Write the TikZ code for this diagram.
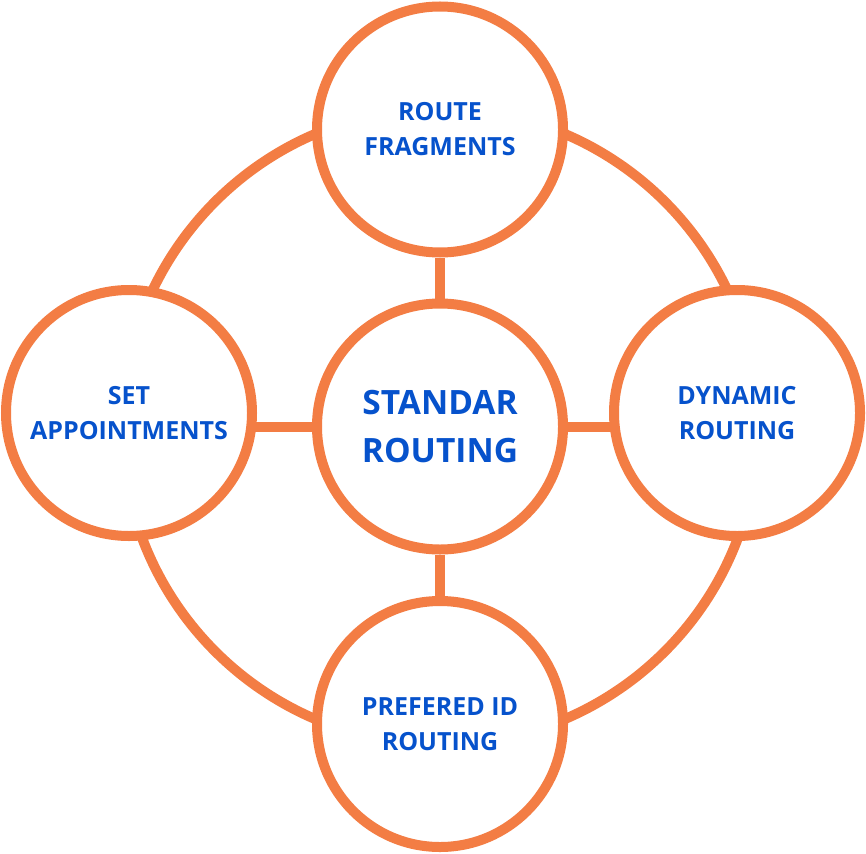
\documentclass[tikz,border=0pt]{standalone}
\usepackage{fontspec}
\setmainfont{Open Sans}
\usetikzlibrary{backgrounds}
\definecolor{ringorange}{RGB}{243,125,68}
\definecolor{textblue}{RGB}{6,82,204}
\tikzset{
  ring/.style={circle, draw=ringorange, line width=10pt, fill=white,
    minimum size=246pt, inner sep=0pt, align=center, text=textblue,
    font=\bfseries\fontsize{25}{35}\selectfont},
  hubring/.style={ring, font=\bfseries\fontsize{33.5}{48}\selectfont},
  link/.style={draw=ringorange, line width=10pt}
}
\begin{document}
\begin{tikzpicture}[x=1pt,y=-1pt]
\useasboundingbox (0,0) rectangle (866,853);
\node[hubring] (c) at (440,426.5) {STANDAR\\ROUTING};
\node[ring] (t) at (440,129.5) {ROUTE\\FRAGMENTS};
\node[ring] (b) at (440,724) {PREFERED ID\\ROUTING};
\node[ring] (l) at (129,413) {SET\\APPOINTMENTS};
\node[ring] (r) at (737,413) {DYNAMIC\\ROUTING};
\begin{scope}[on background layer]
  \draw[link] (c) circle[radius=318pt];
  \draw[link] (c) -- (t);
  \draw[link] (c) -- (b);
  \draw[link] (c) -- (c -| l);
  \draw[link] (c) -- (c -| r);
\end{scope}
\end{tikzpicture}
\end{document}
